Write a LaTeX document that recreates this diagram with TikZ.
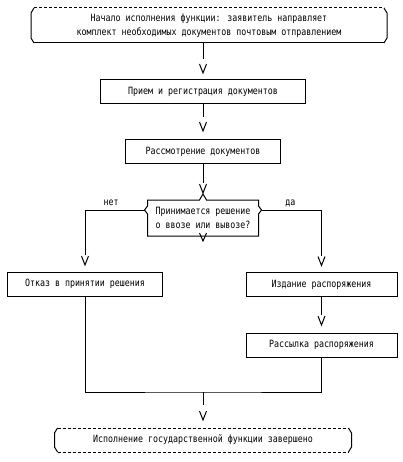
\documentclass[tikz,border=0pt]{standalone}
\usepackage{fontspec}
\newfontfamily\pixfont{DejaVu Sans Mono}[FakeStretch=0.83]
\usetikzlibrary{calc}

\newcommand{\capsframe}[3]{%
  \draw[#2] ([xshift=3pt]#1.north west) -- ([xshift=-3pt]#1.north east);
  \draw[#3] ([xshift=3pt]#1.south west) -- ([xshift=-3pt]#1.south east);
  \draw ([xshift=3pt]#1.north west) -- ([yshift=-5pt]#1.north west) -- ([yshift=5pt]#1.south west) -- ([xshift=3pt]#1.south west);
  \draw ([xshift=-3pt]#1.north east) -- ([yshift=-5pt]#1.north east) -- ([yshift=5pt]#1.south east) -- ([xshift=-3pt]#1.south east);}

\newcommand{\choiceframe}[1]{%
  \draw (#1.north west) -- ([xshift=-3.5pt]#1.north) -- ([yshift=6pt]#1.north) -- ([xshift=3.5pt]#1.north) -- (#1.north east)
    -- ([yshift=-6pt]#1.north east) -- ([xshift=3pt,yshift=-10pt]#1.north east) -- ([yshift=-14pt]#1.north east)
    -- (#1.south east) -- (#1.south west)
    -- ([yshift=-14pt]#1.north west) -- ([xshift=-3pt,yshift=-10pt]#1.north west) -- ([yshift=-6pt]#1.north west) -- cycle;
  \draw ([xshift=-3.5pt,yshift=3pt]#1.south) -- ([yshift=-5pt]#1.south) -- ([xshift=3.5pt,yshift=3pt]#1.south);}

\begin{document}
\begin{tikzpicture}[x=1pt,y=-1pt,line width=1pt]
    \tikzstyle{every node}=[font=\pixfont\fontsize{10}{14}\selectfont,inner sep=0pt,outer sep=0pt,align=center]
    \tikzstyle{box}=[draw,minimum height=24pt]
    \tikzstyle{dashline}=[dash pattern=on 3pt off 2pt]
    \tikzset{vhead/.pic={\draw (-3.5,-9) -- (0,0) -- (3.5,-9);}}

    \useasboundingbox (0,0) rectangle (403,462);

    \node[minimum width=356pt,minimum height=35pt] (start) at (209,25.5)
    {Начало исполнения функции: заявитель направляет\\комплект необходимых документов почтовым отправлением};
    \capsframe{start}{dashline}{solid}

    \node[box,minimum width=205pt] (recv) at (203,92) {Прием и регистрация документов};
    \node[box,minimum width=155pt] (review) at (203,152) {Рассмотрение документов};
    \node[minimum width=111pt,minimum height=36pt] (decide) at (203,218)
    {Принимается решение\\о ввозе или вывозе?};
    \choiceframe{decide}

    \node[box,minimum width=155pt] (refuse) at (85,284) {Отказ в принятии решения};
    \node[box,minimum width=151pt] (issue) at (321.5,284.5) {Издание распоряжения};
    \node[box,minimum width=151pt] (mail) at (321.5,345) {Рассылка распоряжения};

    \node[minimum width=297pt,minimum height=24pt] (finish) at (203,440)
    {Исполнение государственной функции завершено};
    \capsframe{finish}{dashline}{dashline}

    \draw (start.south -| recv.north) -- ([yshift=21pt]recv.north);
    \pic at ([yshift=7pt]recv.north) {vhead};

    \draw (recv.south) -- ([yshift=23pt]review.north);
    \pic at ([yshift=9pt]review.north) {vhead};

    \draw (review.south) -- ([yshift=17pt]decide.north);
    \pic at ([yshift=7pt]decide.north) {vhead};

    \draw ([xshift=-3pt,yshift=-10pt]decide.north west) -| ([yshift=17pt]refuse.north)
    node[pos=0.28,anchor=base,yshift=4.5pt]{нет};
    \pic at ([yshift=7pt]refuse.north) {vhead};

    \draw ([xshift=3pt,yshift=-10pt]decide.north east) -| ([yshift=17pt]issue.north)
    node[pos=0.24,anchor=base,yshift=4.5pt]{да};
    \pic at ([yshift=7pt]issue.north) {vhead};

    \draw (issue.south) -- ([yshift=18pt]mail.north);
    \pic at ([yshift=8pt]mail.north) {vhead};

    \coordinate (join) at (203,392);
    \draw (refuse.south) |- (join) -| (mail.south);
    \draw (join) -- ([yshift=23pt]finish.north);
    \pic at ([yshift=8pt]finish.north) {vhead};
\end{tikzpicture}
\end{document}
